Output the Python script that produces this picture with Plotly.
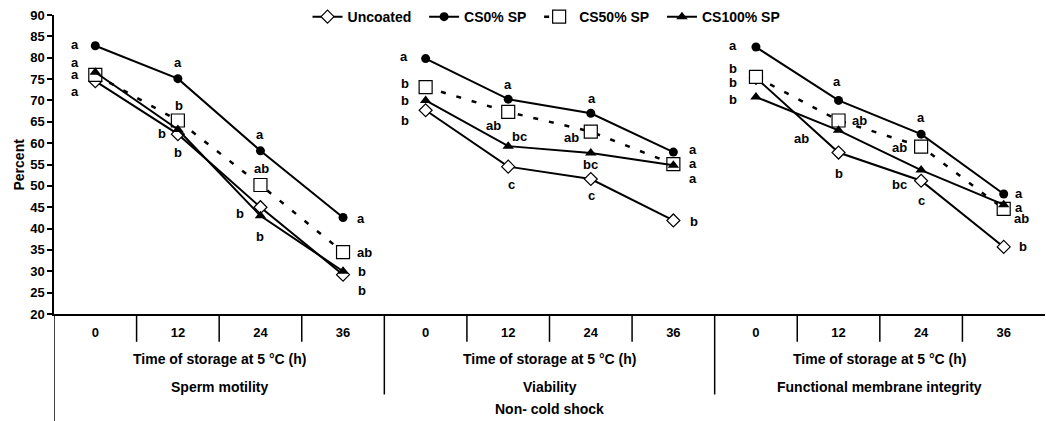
import plotly.graph_objects as go

# ---------------- data ----------------
TIMES = ["0", "12", "24", "36"]
PANELS = ["Sperm motility", "Viability", "Functional membrane integrity"]
X_TITLE = "Time of storage at 5 °C (h)"
GROUP = "Non- cold shock"
Y_TITLE = "Percent"
SERIES = ["Uncoated", "CS0% SP", "CS50% SP", "CS100% SP"]

# values per series: 4 times x 3 panels (motility, viability, membrane integrity)
uncoated = [74.5, 62.1, 45.0, 29.2, 67.7, 54.5, 51.6, 41.9, 75.3, 57.8, 51.2, 35.7]
cs0 = [82.8, 75.1, 58.2, 42.6, 79.8, 70.3, 67.0, 57.9, 82.5, 70.0, 62.1, 48.1]
cs50 = [76.0, 65.3, 50.2, 34.5, 73.1, 67.3, 62.7, 55.1, 75.5, 65.3, 59.2, 44.6]
cs100 = [76.6, 63.2, 43.0, 30.0, 70.0, 59.3, 57.7, 54.8, 70.8, 63.0, 53.7, 45.6]

# significance letters
let_unc = ["a", "b", "b", "b", "b", "c", "c", "b", "b", "b", "c", "b"]
let_cs0 = ["a", "a", "a", "a", "a", "a", "a", "a", "a", "a", "a", "a"]
let_cs50 = ["a", "b", "ab", "ab", "b", "ab", "ab", "a", "b", "ab", "ab", "ab"]
let_cs100 = ["a", "b", "b", "b", "b", "bc", "bc", "a", "b", "ab", "bc", "a"]

# ---------------- layout helpers (label pixel offsets relative to points) ----------------
off_unc = [(-20, -10), (0, -18), (-20, -6), (19, -16), (-21, -10), (3, -18), (1, -16), (21, -1),
           (-23, -5), (0, -21), (0, -20), (19, 0)]
off_cs0 = [(-20, 1), (0, 16), (0, 16), (18, -1), (-22, 2), (0, 15), (1, 15), (20, 3),
           (-23, 2), (-2, 19), (0, 17), (15, 0)]
off_cs50 = [(-20, 0), (1, 15), (1, 17), (21, 0), (-21, 4), (-15, -14), (-19, -6), (20, 1),
            (-23, 8), (21, 0), (-22, -1), (18, -10)]
off_cs100 = [(-20, 10), (-16, -4), (0, -21), (19, 0), (-21, 0), (11, 10), (0, -12), (20, -13),
             (-23, -2), (-37, -8), (-22, -14), (15, -3)]

FONT = "Liberation Sans, Arial, sans-serif"
BLACK = "#000000"
PAD = "\u00a0\u00a0"

styles = [
    dict(line=dict(color=BLACK, width=2),
         marker=dict(symbol="diamond", size=10, color="white", line=dict(color=BLACK, width=1.2))),
    dict(line=dict(color=BLACK, width=2),
         marker=dict(symbol="circle", size=9, color=BLACK, line=dict(color=BLACK, width=0))),
    dict(line=dict(color=BLACK, width=2.5, dash="5px,11px"),
         marker=dict(symbol="square", size=13, color="white", line=dict(color=BLACK, width=1.2))),
    dict(line=dict(color=BLACK, width=2),
         marker=dict(symbol="triangle-up", size=10, color=BLACK, line=dict(color=BLACK, width=0))),
]

all_vals = [uncoated, cs0, cs50, cs100]
all_lets = [let_unc, let_cs0, let_cs50, let_cs100]
all_offs = [off_unc, off_cs0, off_cs50, off_cs100]

n_t = len(TIMES)
n_p = len(PANELS)


def with_gaps(vals):
    xs, ys = [], []
    for p in range(n_p):
        for t in range(n_t):
            i = p * n_t + t
            xs.append(i)
            ys.append(vals[i])
        xs.append(None)
        ys.append(None)
    return xs, ys


fig = go.Figure()
for k, (name, vals, st) in enumerate(zip(SERIES, all_vals, styles)):
    xs, ys = with_gaps(vals)
    label = name + (PAD if k < len(SERIES) - 1 else "")
    fig.add_trace(go.Scatter(x=xs, y=ys, mode="lines+markers", name=label,
                             line=st["line"], marker=st["marker"], connectgaps=False,
                             cliponaxis=False))

annotations = []
for vals, lets, offs in zip(all_vals, all_lets, all_offs):
    for i, (v, txt, (dx, dy)) in enumerate(zip(vals, lets, offs)):
        annotations.append(dict(x=i, y=v, xref="x", yref="y", text=txt, showarrow=False,
                                xshift=dx, yshift=dy,
                                font=dict(family=FONT, size=13, color=BLACK, weight="bold")))

# bottom category table
plot_h = 301.0
plot_w = 991.0


def py(px_below):
    return -px_below / plot_h


for p, pname in enumerate(PANELS):
    cx = p * n_t + (n_t - 1) / 2
    annotations.append(dict(x=cx, y=py(45), xref="x", yref="paper", text=X_TITLE, showarrow=False,
                            xanchor="center", yanchor="middle",
                            font=dict(family=FONT, size=14, color=BLACK, weight="bold")))
    annotations.append(dict(x=cx, y=py(73), xref="x", yref="paper", text=pname, showarrow=False,
                            xanchor="center", yanchor="middle",
                            font=dict(family=FONT, size=14, color=BLACK, weight="bold")))
annotations.append(dict(x=(n_t * n_p - 1) / 2, y=py(96), xref="x", yref="paper", text=GROUP,
                        showarrow=False, xanchor="center", yanchor="middle",
                        font=dict(family=FONT, size=14, color=BLACK, weight="bold")))
annotations.append(dict(x=-36 / plot_w, y=0.5, xref="paper", yref="paper", text=Y_TITLE,
                        showarrow=False, textangle=-90, xanchor="center", yanchor="middle",
                        font=dict(family=FONT, size=14, color=BLACK, weight="bold")))

shapes = []
for p in range(n_p):
    for t in range(1, n_t):
        xb = p * n_t + t - 0.5
        shapes.append(dict(type="line", xref="x", yref="paper", x0=xb, x1=xb, y0=0, y1=py(28),
                           line=dict(color=BLACK, width=1.5)))
    if p > 0:
        xb = p * n_t - 0.5
        shapes.append(dict(type="line", xref="x", yref="paper", x0=xb, x1=xb, y0=0, y1=py(81),
                           line=dict(color=BLACK, width=1.5)))
shapes.append(dict(type="line", xref="x", yref="paper", x0=-0.5, x1=-0.5, y0=0, y1=py(110),
                   line=dict(color=BLACK, width=1.5)))

fig.update_layout(
    width=1046, height=421,
    margin=dict(l=54, r=1, t=13, b=107),
    paper_bgcolor="white", plot_bgcolor="white",
    font=dict(family=FONT, size=13, color=BLACK),
    showlegend=True,
    legend=dict(orientation="h", x=0.497, xanchor="center", y=0.993, yanchor="middle",
                bgcolor="rgba(0,0,0,0)", font=dict(family=FONT, size=14, color=BLACK, weight="bold"),
                itemwidth=30, tracegroupgap=0),
    xaxis=dict(range=[-0.5, n_t * n_p - 0.5], tickvals=list(range(n_t * n_p)),
               ticktext=TIMES * n_p, ticks="", showgrid=False, zeroline=False,
               showline=True, linecolor=BLACK, linewidth=2, ticklabelstandoff=5,
               automargin=False,
               tickfont=dict(family=FONT, size=13, color=BLACK, weight="bold")),
    yaxis=dict(range=[20, 90], dtick=5, tick0=20, ticks="outside", ticklen=5, tickwidth=1.5,
               tickcolor=BLACK, showgrid=False, zeroline=False, showline=True,
               linecolor=BLACK, linewidth=1.5, automargin=False,
               tickfont=dict(family=FONT, size=13, color=BLACK, weight="bold")),
    annotations=annotations,
    shapes=shapes,
)

fig.write_html("out.html", config={"displayModeBar": False},
               post_script="document.body.style.margin='0';document.body.style.overflow='hidden';")
